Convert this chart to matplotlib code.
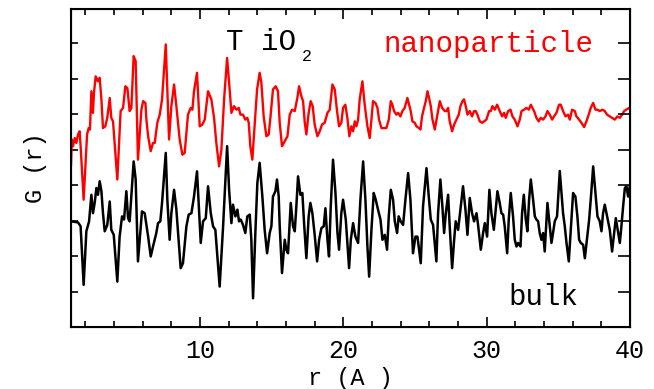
# PDF of TiO2: nanoparticle vs bulk
import matplotlib.pyplot as plt

# nanoparticle curve (red)
r_nano = [1.0, 1.05, 1.14, 1.26, 1.37, 1.49, 1.60, 1.67, 1.88, 2.12, 2.23, 2.32, 2.42, 2.53, 2.60, 2.72, 2.88, 3.0,
          3.12, 3.23, 3.39, 3.53, 3.70, 3.81, 3.93, 4.23, 4.46, 4.63, 4.79, 4.93, 5.09, 5.21, 5.37, 5.51, 5.67,
          5.91, 6.03, 6.19, 6.26, 6.38, 6.56, 6.72, 6.84, 7.02, 7.19, 7.35, 7.49, 7.61, 7.72, 7.84, 8.0, 8.19,
          8.35, 8.58, 8.77, 8.93, 9.16, 9.35, 9.47, 9.58, 9.79, 9.98, 10.16, 10.33, 10.56,
          10.79, 10.98, 11.14, 11.33, 11.49, 11.68, 11.89, 12.03, 12.19, 12.37, 12.54, 12.70, 12.82, 13.0, 13.16,
          13.30, 13.40, 13.51, 13.65, 13.82, 13.98, 14.16, 14.28, 14.44, 14.63, 14.79, 14.91, 15.09, 15.28, 15.44,
          15.56, 15.72, 15.91, 16.10, 16.26, 16.42, 16.61, 16.79, 16.91, 17.07, 17.19, 17.31, 17.42, 17.58, 17.72,
          17.86, 18.0, 18.19, 18.35, 18.51, 18.70, 18.89, 19.05, 19.24, 19.40, 19.56, 19.70, 19.86, 19.98, 20.14,
          20.28, 20.42,
          20.56, 20.68, 20.80, 20.91, 21.03, 21.14, 21.33, 21.49, 21.68, 21.84, 21.96, 22.07, 22.24, 22.38, 22.49,
          22.66, 22.84, 23.0, 23.17, 23.31, 23.42, 23.54, 23.70, 23.82, 23.98, 24.12, 24.28, 24.47, 24.59, 24.70,
          24.82, 24.98, 25.10, 25.28,
          25.38, 25.49, 25.63, 25.75, 25.87, 25.98, 26.10, 26.22, 26.38, 26.54, 26.73, 26.89, 27.08, 27.19, 27.31,
          27.42, 27.59, 27.73, 27.89, 28.05, 28.17, 28.31, 28.42, 28.54, 28.66, 28.82, 28.98, 29.12, 29.24, 29.35,
          29.52, 29.68, 29.82, 29.98, 30.17,
          30.29, 30.40, 30.57, 30.73, 30.91, 31.08, 31.22, 31.33, 31.50, 31.66, 31.80, 31.96, 32.15, 32.31, 32.43,
          32.61, 32.77, 32.94, 33.08, 33.19, 33.31, 33.47, 33.63, 33.77, 33.94, 34.10, 34.24, 34.40, 34.57, 34.70,
          34.87, 35.05,
          35.17, 35.33, 35.50, 35.68, 35.80, 35.96, 36.15, 36.26, 36.45, 36.61, 36.80, 36.96, 37.12, 37.26, 37.43,
          37.59, 37.73, 37.89, 38.08, 38.24, 38.40, 38.59, 38.75, 38.94, 39.12, 39.29, 39.45, 39.59, 39.75, 39.94,
          40.0]
g_nano = [4.58, 5.29, 5.10, 5.33, 5.19, 5.43, 5.52, 5.10, 3.59, 5.43, 5.61, 5.57, 6.65, 6.04, 6.60, 7.07, 6.93, 7.03,
          6.42, 5.61, 5.66, 5.90, 6.46, 5.90, 5.80, 4.16, 6.09, 6.18, 6.79, 6.74, 6.09, 6.18, 7.64, 7.50, 4.72,
          6.13, 6.37, 6.32, 5.85, 5.38, 4.96, 5.19, 5.19, 5.76, 5.99, 6.42, 7.26, 7.97, 6.70, 5.29, 6.23, 6.84,
          6.23, 5.29, 4.86, 4.91, 5.99, 6.18, 6.13, 6.65, 7.17, 5.66, 5.71, 5.85, 6.65,
          6.42, 5.90, 5.19, 4.53, 5.0, 6.42, 7.59, 6.89, 6.04, 6.23, 6.13, 6.18, 5.99, 5.99, 5.85,
          5.90, 5.76, 5.10, 4.72, 5.76, 6.70, 7.17, 6.89, 5.94, 5.38, 5.43, 5.90, 6.70, 6.79, 6.65,
          5.76, 5.10, 5.24, 5.38, 5.99, 6.13, 6.09, 6.46, 6.79, 6.51, 6.37, 5.76, 5.43, 6.04, 6.37,
          6.23, 5.71, 5.38, 5.52, 5.71, 5.76, 6.04, 6.13, 6.84, 6.70, 6.09, 5.66, 5.76, 6.18, 6.27,
          5.90, 5.38,
          5.66, 5.52, 5.80, 5.66, 5.85, 6.42, 6.93, 6.27, 5.66, 5.33, 5.85, 6.37, 6.32, 6.18, 5.85,
          5.61, 5.61, 5.61, 5.85, 6.37, 6.27, 6.09, 5.99, 6.04, 5.94, 6.09, 6.18, 6.46, 6.27, 6.09,
          5.80, 5.76, 5.66, 5.61,
          5.57, 5.94, 6.18, 6.37, 6.65, 6.46, 6.23, 5.85, 5.57, 5.94, 6.37, 6.18, 6.09, 6.09, 6.18,
          5.80, 5.52, 5.71, 5.85, 5.99, 6.23, 6.37, 6.42, 6.23, 5.99, 6.09, 5.94, 6.09, 6.09, 5.99,
          5.80, 5.76, 5.80, 5.85, 6.09,
          6.09, 6.23, 6.13, 6.27, 6.09, 5.94, 6.04, 5.90, 6.09, 6.13, 5.94, 5.85, 5.66, 5.85, 6.09,
          6.13, 6.18, 6.13, 6.27, 6.18, 6.09, 5.90, 5.80, 5.90, 5.85, 5.94, 6.09, 5.99, 5.85, 5.94,
          6.04, 6.27,
          6.27, 6.09, 5.94, 5.99, 5.85, 6.13, 6.09, 5.94, 5.85, 5.76, 5.64, 5.80, 5.99, 6.18, 6.32,
          6.13, 6.13, 6.09, 6.13, 6.09, 5.99, 5.94, 5.90, 5.85, 5.94, 5.90, 5.99, 6.09, 6.13, 6.18,
          6.20]

# bulk curve (black)
r_bulk = [1.0, 1.49, 1.67, 1.88, 2.07, 2.26, 2.42, 2.53, 2.65, 2.77, 2.88, 3.0, 3.12, 3.23, 3.35, 3.53, 3.70, 3.81,
          3.98, 4.23, 4.39, 4.56, 4.70, 4.86, 4.98, 5.09, 5.37, 5.51, 5.67,
          5.95, 6.14, 6.38, 6.56, 6.72, 6.95, 7.07, 7.23, 7.35, 7.61, 7.72, 7.88, 8.0, 8.19, 8.35, 8.65, 8.81,
          9.05, 9.21, 9.40, 9.58, 9.79, 10.05, 10.21, 10.40, 10.56,
          10.75, 10.91, 11.07, 11.21, 11.37, 11.61, 11.89, 12.03, 12.19, 12.30, 12.47, 12.61, 12.72, 12.84, 13.0,
          13.16, 13.30, 13.47, 13.58, 13.70, 13.86, 14.0, 14.16, 14.35, 14.51, 14.68, 14.86, 14.98, 15.09, 15.26,
          15.37, 15.49,
          15.56, 15.72, 15.91, 16.03, 16.14, 16.33, 16.49, 16.61, 16.72, 16.84, 17.0, 17.14, 17.26, 17.42, 17.58,
          17.70, 17.84, 18.0, 18.17, 18.31, 18.47, 18.63, 18.75, 18.89, 19.0, 19.12, 19.28, 19.45, 19.59, 19.70,
          19.86, 19.98, 20.17, 20.40,
          20.52, 20.68, 20.84, 21.03, 21.19, 21.38, 21.54, 21.68, 21.80, 21.96, 22.12, 22.26, 22.42, 22.59, 22.73,
          22.89, 23.05, 23.17, 23.31, 23.47, 23.59, 23.75, 23.86, 24.0, 24.17, 24.33, 24.52, 24.68, 24.86, 25.03,
          25.17,
          25.40, 25.56, 25.80, 25.96, 26.10, 26.26, 26.49, 26.61, 26.77, 26.91, 27.03, 27.15, 27.31, 27.42, 27.59,
          27.73, 27.84, 28.01, 28.19, 28.35, 28.52, 28.66, 28.82, 28.98, 29.12, 29.29, 29.40, 29.59, 29.75, 29.87,
          30.03, 30.19,
          30.33, 30.50, 30.61, 30.75, 30.91, 31.03, 31.15, 31.26, 31.43, 31.54, 31.68, 31.84, 31.96, 32.08, 32.19,
          32.36, 32.47, 32.59, 32.73, 32.84, 32.96, 33.08, 33.24, 33.36, 33.47, 33.59, 33.70, 33.82, 33.94, 34.05,
          34.24, 34.40, 34.52, 34.63, 34.75, 34.91, 35.1,
          35.33, 35.45, 35.57, 35.73, 35.87, 36.03, 36.19, 36.33, 36.45, 36.57, 36.73, 36.85, 37.03, 37.15, 37.26,
          37.43, 37.59, 37.73, 37.89, 38.01, 38.12, 38.24, 38.36, 38.47, 38.59, 38.75, 38.89, 39.01, 39.12, 39.29,
          39.40, 39.52, 39.64, 39.75, 39.87, 39.98]
g_bulk = [2.98, 2.95, 2.84, 1.19, 2.70, 2.98, 3.73, 3.21, 3.50, 3.92, 3.73, 4.11, 3.83, 3.21, 2.70, 2.88, 3.54, 2.74,
          2.60, 1.28, 2.55, 3.12, 3.03, 3.83, 3.07, 2.98, 4.67, 4.16, 1.85,
          3.26, 3.21, 2.55, 1.99, 2.27, 2.65, 2.93, 2.98, 3.50, 4.91, 3.59, 2.46, 3.21, 3.87, 3.31, 1.66, 1.80,
          2.84, 3.17, 3.21, 3.68, 4.39, 2.37, 2.98, 3.07, 3.97,
          3.21, 2.84, 2.74, 1.99, 1.14, 2.84, 5.10, 3.87, 2.93, 3.45, 3.12, 3.31, 2.98, 3.03, 2.88,
          2.65, 3.12, 3.17, 2.46, 0.81, 2.65, 4.06, 4.63, 3.68, 2.74, 2.08, 2.65, 2.84, 3.68, 3.83,
          4.16, 3.68,
          2.84, 1.52, 2.46, 2.17, 2.08, 3.50, 2.84, 2.70, 3.40, 4.25, 3.73, 3.78, 2.93, 1.94, 3.12,
          3.50, 3.21, 2.60, 1.85, 2.46, 2.79, 2.84, 3.35, 2.46, 1.99, 3.40, 4.72, 3.78, 2.65, 2.18,
          3.21, 3.59, 3.03, 1.66,
          2.46, 2.93, 2.55, 2.37, 3.59, 4.67, 3.59, 2.27, 1.42, 2.74, 3.78, 3.59, 3.31, 3.03, 2.46,
          2.60, 2.18, 3.12, 3.87, 3.59, 2.98, 2.65, 3.12, 2.98, 2.88, 3.59, 4.34, 3.59, 2.08, 2.55,
          2.55,
          1.80, 3.40, 4.48, 3.68, 3.03, 2.88, 1.85, 3.21, 4.16, 3.40, 2.65, 3.21, 3.73, 2.84, 1.66,
          2.46, 2.98, 2.74, 3.40, 3.97, 3.31, 2.60, 3.64, 3.21, 2.98, 3.21, 2.88, 2.18, 2.65, 2.93,
          2.55, 3.87,
          3.21, 2.74, 3.21, 3.83, 3.50, 3.21, 3.17, 2.84, 2.08, 3.03, 3.78, 3.12, 2.46, 2.27, 2.37,
          2.27, 3.21, 3.73, 3.03, 2.70, 3.59, 4.16, 3.59, 3.12, 3.03, 2.98, 2.65, 2.46, 2.65, 2.13,
          3.50, 2.84, 2.37, 2.65, 2.98, 3.12, 4.40,
          3.21, 2.84, 2.37, 1.85, 2.74, 3.78, 3.68, 3.12, 2.46, 2.37, 2.32, 1.94, 2.60, 3.03, 3.59,
          4.53, 3.78, 3.12, 2.98, 2.70, 3.21, 3.45, 3.21, 2.98, 2.74, 2.13, 2.65, 3.07, 2.79, 2.37,
          2.84, 3.40, 3.92, 3.97, 3.68, 3.97]

plt.rcParams['font.family'] = ['Liberation Mono', 'DejaVu Sans']

fig = plt.figure(figsize=(6.54, 3.89), dpi=100)
ax = fig.add_axes([0.1086, 0.1594, 0.8547, 0.8175])

ax.plot(r_bulk, g_bulk, color='black', lw=1.8)
ax.plot(r_nano, g_nano, color='red', lw=1.7)

ax.set_xlim(1, 40)
ax.set_ylim(0, 8.97)
ax.set_xticks([10, 20, 30, 40])
ax.set_xticks(range(2, 41, 2), minor=True)
ax.set_yticks(range(1, 9))
ax.set_yticklabels([])
ax.tick_params(which='both', direction='in', top=True, right=False, width=1.2)
ax.tick_params(which='major', length=7)
ax.tick_params(which='minor', length=4)
ax.tick_params(axis='y', length=5)
ax.tick_params(axis='x', labelsize=18, pad=9)
for s in ax.spines.values():
    s.set_linewidth(1.5)

# longer ticks on the right side
ax2 = ax.twinx()
ax2.set_ylim(0, 8.97)
ax2.set_yticks(range(1, 9))
ax2.set_yticklabels([])
ax2.tick_params(direction='in', length=9, width=1.2)

ax.set_xlabel('r (A )', fontsize=17)
ax.xaxis.set_label_coords(0.5, -0.125)
ax.set_ylabel('G (r)', fontsize=17, labelpad=14)

ax.text(11.8, 7.8, 'T iO', fontsize=21, color='black')
ax.text(17.1, 7.49, '2', fontsize=12, color='black')
ax.text(22.8, 7.77, 'nanoparticle', fontsize=21, color='red')
ax.text(31.5, 0.62, 'bulk', fontsize=21, color='black')

fig.savefig('out.png', dpi=100)
